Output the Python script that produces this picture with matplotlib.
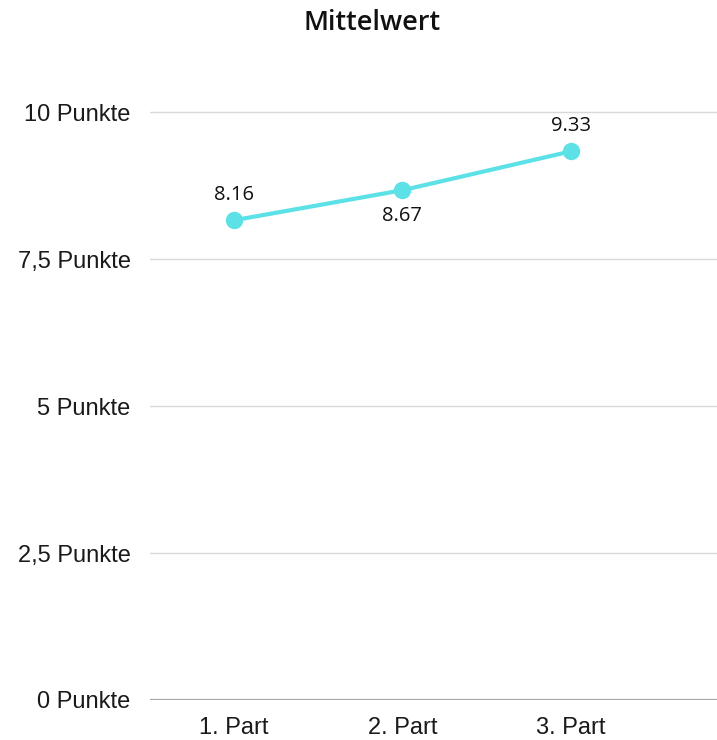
import matplotlib.pyplot as plt
import numpy as np

# ----- chart data -----
categories = ['1. Part', '2. Part', '3. Part']
mean_points = [8.16, 8.67, 9.33]
label_above = [True, False, True]
y_ticks = [0, 2.5, 5, 7.5, 10]
y_tick_labels = ['0 Punkte', '2,5 Punkte', '5 Punkte', '7,5 Punkte', '10 Punkte']

line_color = '#5ce1e6'

fig = plt.figure(figsize=(7.17, 7.40), dpi=100)
ax = fig.add_axes([150 / 717, 40 / 740, 1 - 150 / 717, 635 / 740])

x = np.arange(len(categories))
ax.plot(x, mean_points, color=line_color, lw=3, marker='o', markersize=11.5, zorder=3)

for xi, val, above in zip(x, mean_points, label_above):
    ax.annotate(f'{val:.2f}', (xi, val), xytext=(0, 11 if above else -11),
                textcoords='offset points', ha='center',
                va='bottom' if above else 'top',
                fontsize=14.5, family='Open Sans', color='#111111')

ax.set_xlim(-0.5, 2.87)
ax.set_ylim(0, 10.8)
ax.set_xticks(x)
ax.set_xticklabels(categories, family='Liberation Sans', fontsize=17, color='#1a1a1a')
ax.set_yticks(y_ticks)
ax.set_yticklabels(y_tick_labels, family='Liberation Sans', fontsize=17, color='#1a1a1a')
ax.tick_params(axis='both', length=0)
ax.tick_params(axis='y', pad=14)
ax.tick_params(axis='x', pad=12)

for t in y_ticks[1:]:
    ax.axhline(t, color='#d9d9d9', lw=1, zorder=1)
ax.axhline(0, color='#a6a6a6', lw=1.6, zorder=1)

for side in ['top', 'right', 'left', 'bottom']:
    ax.spines[side].set_visible(False)

fig.text(372 / 717, 1 - 23 / 740, 'Mittelwert', ha='center', va='center',
         fontsize=19.5, family='Open Sans', fontweight='semibold', color='#111111')

fig.savefig('out.png', dpi=100)
